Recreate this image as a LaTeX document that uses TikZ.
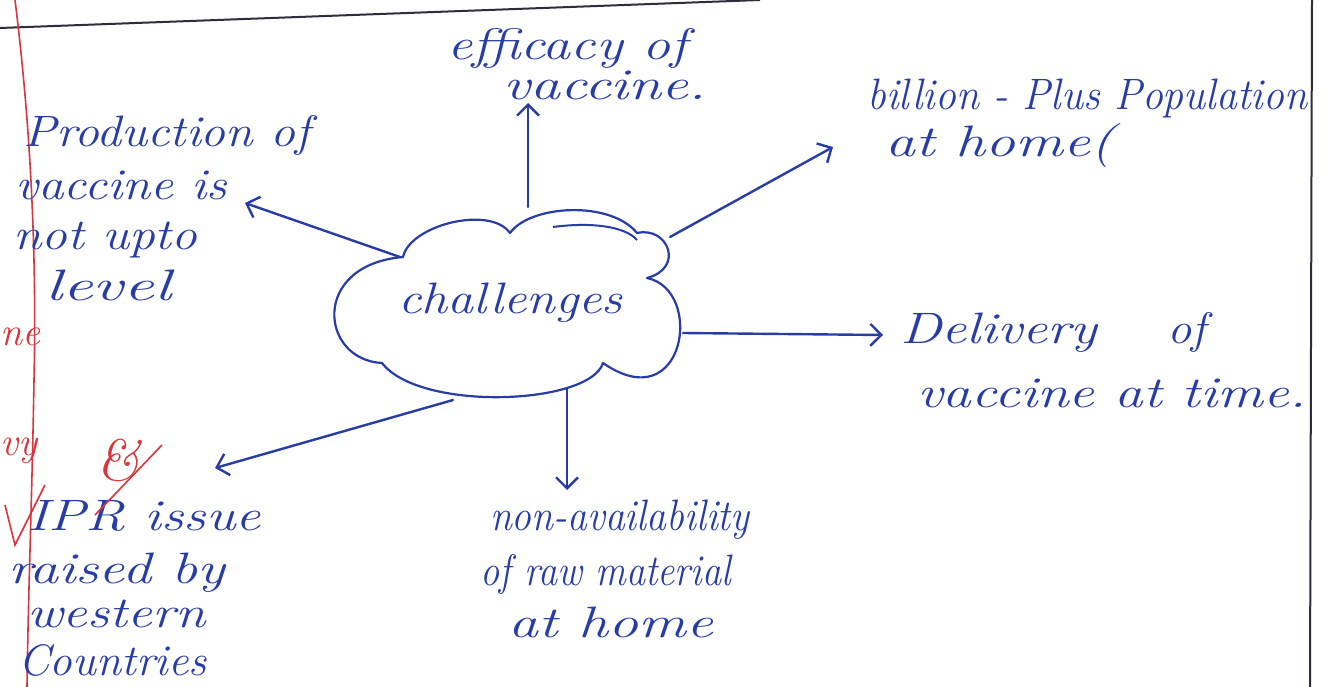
\documentclass[tikz,border=0pt]{standalone}
\usepackage{graphicx}
\usetikzlibrary{arrows.meta}
\definecolor{ink}{RGB}{40,60,165}
\definecolor{redink}{RGB}{215,55,60}
\definecolor{rule}{RGB}{45,45,60}
\newcommand\hsx[2]{\scalebox{#1}[1]{#2}}
\tikzset{
  txt/.style={anchor=base west, inner sep=0pt, text=ink,
    font=\fontsize{44}{50}\selectfont\itshape},
  arr/.style={draw=ink, line width=2.4pt, line cap=round,
    -{Straight Barb[length=11pt,width=22pt,line width=2.4pt]}},
  redmark/.style={anchor=base west, text=redink, inner sep=0pt, font=\fontsize{40}{40}\selectfont\itshape}
}
\begin{document}
\begin{tikzpicture}[x=1pt,y=-1pt]
\useasboundingbox (0,0) rectangle (1339,687);
\fill[white] (0,0) rectangle (1339,687);
% page rules
\draw[rule, line width=2pt] (0,28) -- (760,0);
\draw[rule, line width=2pt] (1312,0) -- (1310,687);
\draw[redink, line width=1.6pt] (15,0) .. controls (30,120) and (37,250) .. (34,380) .. controls (32,500) and (28,600) .. (27,687);
% cloud
\draw[ink, line width=2.2pt, line join=round]
  (403,257) .. controls (410,225) and (490,205) .. (510,233)
  .. controls (530,205) and (610,200) .. (637,233)
  .. controls (668,226) and (685,268) .. (647,278)
  .. controls (705,290) and (685,420) .. (603,363)
  .. controls (590,405) and (420,412) .. (382,363)
  .. controls (320,360) and (310,265) .. cycle;
\draw[ink, line width=2pt] (553,227) .. controls (590,222) and (625,226) .. (637,240);
\node[txt] (cl) at (398,313) {\hsx{1.18}{challenges}};
% cloud exits
\coordinate (cN) at (528,207);
\coordinate (cNE) at (670,237);
\coordinate (cNW) at (400,257);
\coordinate (cE) at (683,333);
\coordinate (cS) at (567,388);
\coordinate (cSW) at (453,400);
% texts
\node[txt] (eff) at (447,60) {\hsx{1.27}{efficacy of}};
\node[txt] (eff2) at (503,100) {\hsx{1.36}{vaccine.}};
\node[txt] (bil) at (867,110) {\hsx{0.95}{billion - Plus Population}};
\node[txt] (bil2) at (885,157) {\hsx{1.36}{at home(}};
\node[txt] (prod1) at (23,147) {\hsx{1.13}{Production of}};
\node[txt] (prod2) at (15,200) {\hsx{1.16}{vaccine is}};
\node[txt] (prod3) at (13,250) {\hsx{1.17}{not upto}};
\node[txt] (prod4) at (45,300) {\hsx{1.55}{level}};
\node[txt] (del) at (900,343) {\hsx{1.27}{Delivery}};
\node[txt] (delof) at (1167,343) {\hsx{1.1}{of}};
\node[txt] (del2) at (917,407) {\hsx{1.3}{vaccine at time.}};
\node[txt] (non) at (490,530) {\hsx{0.9}{non-availability}};
\node[txt] (non2) at (480,585) {\hsx{0.87}{of raw material}};
\node[txt] (non3) at (508,637) {\hsx{1.36}{at home}};
\node[txt] (ipr1) at (27,530) {\hsx{1.27}{IPR issue}};
\node[txt] (ipr2) at (8,583) {\hsx{1.32}{raised by}};
\node[txt] (ipr3) at (27,627) {\hsx{1.25}{western}};
\node[txt] (ipr4) at (18,675) {\hsx{1.03}{Countries}};
% arrow tips
\coordinate (tN) at (528,103);
\coordinate (tNE) at (833,147);
\coordinate (tNW) at (245,203);
\coordinate (tE) at (883,335);
\coordinate (tS) at (567,490);
\coordinate (tSW) at (215,468);
\draw[arr] (cN) -- (tN);
\draw[arr] (cNE) -- (tNE);
\draw[arr] (cNW) -- (tNW);
\draw[arr] (cE) -- (tE);
\draw[arr] (cS) -- (tS);
\draw[arr] (cSW) -- (tSW);
% red teacher marks
\node[redmark] (rm1) at (0,345) {ne};
\node[redmark] (rm2) at (0,455) {vy};
\node[redmark, font=\fontsize{58}{58}\selectfont\itshape] (rm3) at (96,480) {\&};
\draw[redink, line width=1.6pt] (5,505) -- (15,545) -- (45,485);
\draw[redink, line width=1.6pt] (95,515) -- (162,445);
\end{tikzpicture}
\end{document}
